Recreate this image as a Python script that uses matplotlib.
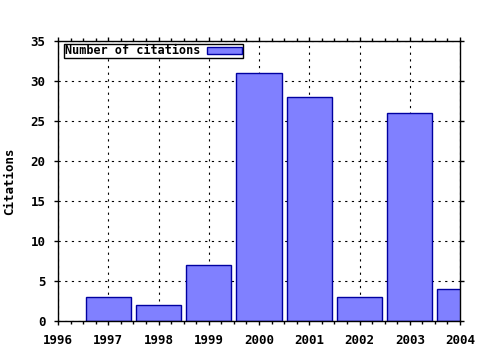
import matplotlib
matplotlib.use("Agg")
import matplotlib.pyplot as plt
from matplotlib.ticker import MultipleLocator

years = [1997, 1998, 1999, 2000, 2001, 2002, 2003, 2004]
citations = [3, 2, 7, 31, 28, 3, 26, 4]
xticks = [1996, 1997, 1998, 1999, 2000, 2001, 2002, 2003, 2004]
yticks = [0, 5, 10, 15, 20, 25, 30, 35]

plt.rcParams['font.family'] = ['DejaVu Sans Mono']
plt.rcParams['font.weight'] = 'bold'

fig = plt.figure(figsize=(4.8, 3.5), dpi=100)
ax = fig.add_axes([58/480, 1-321/350, (460-58)/480, (321-41)/350])

ax.bar(years, citations, width=0.9, color='#8080ff', edgecolor='#0000a0',
       linewidth=1, label='Number of citations', zorder=2)

ax.set_xlim(1996, 2004)
ax.set_ylim(0, 35)
ax.set_xticks(xticks)
ax.set_yticks(yticks)
ax.set_xticklabels([str(v) for v in xticks], fontsize=9, fontweight='bold')
ax.set_yticklabels([str(v) for v in yticks], fontsize=9, fontweight='bold')
ax.xaxis.set_minor_locator(MultipleLocator(0.25))
ax.tick_params(which='both', direction='out', top=True, right=True, width=1)
ax.tick_params(which='major', length=3)
ax.tick_params(which='minor', length=2)
ax.tick_params(axis='y', pad=6)
ax.tick_params(axis='x', pad=6)
ax.grid(True, which='major', color='black', linestyle=(0, (2, 4)), linewidth=0.8, zorder=1)
ax.set_axisbelow(True)
for s in ax.spines.values():
    s.set_linewidth(1)
    s.set_zorder(3)

ax.set_ylabel('Citations', fontsize=9, fontweight='bold', labelpad=10)

leg = ax.legend(loc='upper left', bbox_to_anchor=(0.015, 0.99), markerfirst=False,
                frameon=True, fancybox=False, framealpha=1, edgecolor='black',
                fontsize=8.5, borderpad=0.05, handlelength=3.0, handleheight=0.55,
                handletextpad=0.6, borderaxespad=0.0)
leg.get_frame().set_linewidth(1)

fig.savefig('out.png', dpi=100)
